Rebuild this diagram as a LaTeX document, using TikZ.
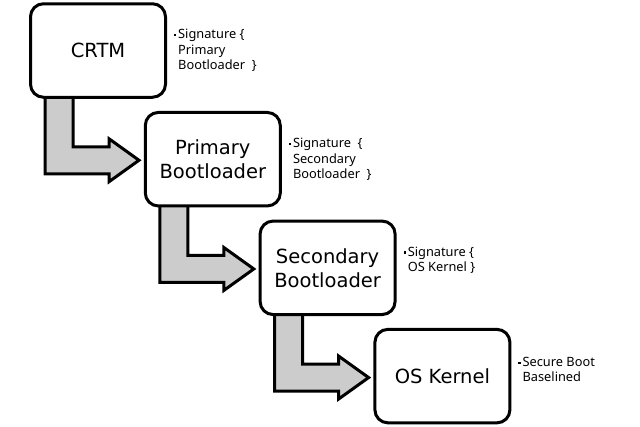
\documentclass[tikz,border=0pt]{standalone}
\usepackage{fontspec}
\setmainfont{Noto Sans}
\newfontfamily\boxfont{DejaVu Sans}
\usetikzlibrary{calc}
\begin{document}
\begin{tikzpicture}[x=1pt,y=-1pt,
  stagebox/.style={draw=black, line width=3pt, rounded corners=13pt, fill=white,
    minimum width=135pt, minimum height=93.5pt, align=center, inner sep=0pt,
    font=\boxfont\fontsize{19.5}{24}\selectfont},
  sidelabel/.style={anchor=north west, align=left, inner sep=0pt,
    font=\fontsize{12.8}{15.5}\selectfont},
  bentarrow/.style={draw=black, line width=3pt, fill=black!20, line join=miter}]
\useasboundingbox (0,0) rectangle (640,426);
\def\blt{\llap{\rule[2.4pt]{2.4pt}{2.4pt}\hspace{1.8pt}}}
% boxes (positions only)
\coordinate (p1) at (98,50.5);
\coordinate (p2) at (212.8,159.2);
\coordinate (p3) at (327.6,267.8);
\coordinate (p4) at (442.4,376.1);
% arrows drawn first, boxes on top
\foreach \a/\n in {p1/A,p2/B,p3/C}{
  \coordinate (sw\n) at ($(\a)+(-69,48.25)$);
  \draw[bentarrow]
    ($(sw\n)+(16,-3)$) -- ($(sw\n)+(16,75)$) -- ($(sw\n)+(80,75)$) --
    ($(sw\n)+(80,83)$) -- ($(sw\n)+(110,61.5)$) -- ($(sw\n)+(80,40)$) --
    ($(sw\n)+(80,48)$) -- ($(sw\n)+(44,48)$) -- ($(sw\n)+(44,-3)$) -- cycle;
}
\node[stagebox] (b1) at (p1) {CRTM};
\node[stagebox] (b2) at (p2) {Primary\\Bootloader};
\node[stagebox] (b3) at (p3) {Secondary\\Bootloader};
\node[stagebox] (b4) at (p4) {OS Kernel};
\node[sidelabel] (l1) at ($(b1.north east)+(11,27)$) {\blt Signature \{\\Primary\\Bootloader\ \ \}};
\node[sidelabel] (l2) at ($(b2.north east)+(11,27)$) {\blt Signature\ \ \{\\Secondary\\Bootloader\ \ \}};
\node[sidelabel] (l3) at ($(b3.north east)+(11,27)$) {\blt Signature \{\\OS Kernel \}};
\node[sidelabel] (l4) at ($(b4.north east)+(11,29)$) {\blt Secure Boot\\Baselined};
\end{tikzpicture}
\end{document}
